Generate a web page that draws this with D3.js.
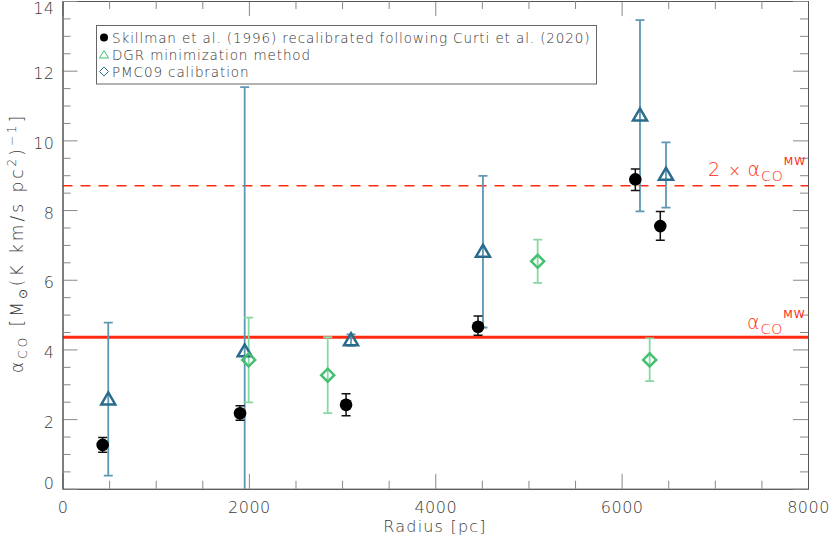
<!DOCTYPE html>
<html>
<head>
<meta charset="utf-8">
<script src="https://cdn.jsdelivr.net/npm/d3@7"></script>
<style>
  body { margin: 0; background: #fff; }
  svg text { font-family: "DejaVu Sans", sans-serif; font-weight: 200; }
</style>
</head>
<body>
<svg id="chart"></svg>
<script>
const width = 830
const height = 543

// Skillman et al. (1996) recalibrated (black circles)
const skR = [431, 1905, 3043, 4459, 6147, 6415]
const skA = [1.26, 2.17, 2.41, 4.65, 8.88, 7.54]
const skLo = [1.05, 1.97, 2.10, 4.41, 8.56, 7.13]
const skHi = [1.47, 2.38, 2.73, 4.96, 9.18, 7.96]

// triangles (blue in plot)
const triR = [491, 1955, 3096, 4512, 6197, 6476]
const triA = [2.55, 3.93, 4.25, 6.79, 10.70, 9.00]
const triLo = [0.38, -1, 4.10, 4.63, 7.96, 8.07]
const triHi = [4.77, 11.53, 4.43, 8.98, 13.45, 9.94]

// diamonds (green in plot)
const diaR = [1998, 2846, 5099, 6301]
const diaA = [3.70, 3.26, 6.53, 3.70]
const diaLo = [2.48, 2.17, 5.91, 3.09]
const diaHi = [4.91, 4.35, 7.15, 4.32]

const alphaMW = 4.35
const xTicks = [0, 2000, 4000, 6000, 8000]
const yTicks = [0, 2, 4, 6, 8, 10, 12, 14]
const legendLabels = [
    "Skillman et al. (1996) recalibrated following Curti et al. (2020)",
    "DGR minimization method",
    "PMC09 calibration"
]

const margin = {top: 1, right: 22, bottom: 54.2, left: 62.5}

const x = d3.scaleLinear().domain([0, 8000]).range([margin.left, width - margin.right])
const y = d3.scaleLinear().domain([0, 14]).range([height - margin.bottom, margin.top])

const red = "#ff2a12"
const blueDark = "#2a6a8c"
const blueLight = "#5e97b4"
const greenDark = "#45bf72"
const greenLight = "#86d9a2"
const axisCol = "#555"
const textCol = "#3a3a3a"

const svg = d3.select("#chart").attr("width", width).attr("height", height)

svg.append("clipPath").attr("id", "clip")
    .append("rect")
    .attr("x", x(0)).attr("y", y(14))
    .attr("width", x(8000) - x(0)).attr("height", y(0) - y(14))

const plot = svg.append("g").attr("clip-path", "url(#clip)")

// reference lines
plot.append("line")
    .attr("x1", x(0)).attr("x2", x(8000))
    .attr("y1", y(alphaMW)).attr("y2", y(alphaMW))
    .attr("stroke", red).attr("stroke-width", 3)

plot.append("line")
    .attr("x1", x(0)).attr("x2", x(8000))
    .attr("y1", y(2 * alphaMW)).attr("y2", y(2 * alphaMW))
    .attr("stroke", red).attr("stroke-width", 1.5)
    .attr("stroke-dasharray", "10,8")

function errorBars(R, lo, hi, colour, cap, sw) {
    const g = plot.append("g")
    R.forEach((r, i) => {
        g.append("line")
            .attr("x1", x(r)).attr("x2", x(r))
            .attr("y1", y(lo[i])).attr("y2", y(hi[i]))
            .attr("stroke", colour).attr("stroke-width", sw)
        ;[lo[i], hi[i]].forEach(v => {
            if (v < 0) return
            g.append("line")
                .attr("x1", x(r) - cap).attr("x2", x(r) + cap)
                .attr("y1", y(v)).attr("y2", y(v))
                .attr("stroke", colour).attr("stroke-width", sw)
        })
    })
}

errorBars(triR, triLo, triHi, blueLight, 4.5, 1.8)
errorBars(diaR, diaLo, diaHi, greenLight, 4.5, 1.8)
errorBars(skR, skLo, skHi, "#111", 4.5, 1.5)

const triPath = "M0,-7.5L7,4.5L-7,4.5Z"
const diaPath = "M0,-6.5L6.5,0L0,6.5L-6.5,0Z"

plot.selectAll(".tri")
    .data(triR)
    .join("path")
    .attr("class", "tri")
    .attr("d", triPath)
    .attr("transform", (d, i) => `translate(${x(d)},${y(triA[i])})`)
    .attr("fill", "none").attr("stroke", blueDark).attr("stroke-width", 2.5)

plot.selectAll(".dia")
    .data(diaR)
    .join("path")
    .attr("class", "dia")
    .attr("d", diaPath)
    .attr("transform", (d, i) => `translate(${x(d)},${y(diaA[i])})`)
    .attr("fill", "none").attr("stroke", greenDark).attr("stroke-width", 2.5)

plot.selectAll(".sk")
    .data(skR)
    .join("circle")
    .attr("class", "sk")
    .attr("cx", d => x(d))
    .attr("cy", (d, i) => y(skA[i]))
    .attr("r", 6.3)
    .attr("fill", "#000")

// axes: major ticks 15px, minor 8px, on all four sides
const minorX = d3.range(0, 8001, 500).filter(v => v % 2000 !== 0)
const minorY = d3.range(0, 14.01, 0.5).filter(v => v % 2 !== 0)

function drawAxis(axis, tr, labels) {
    const g = svg.append("g").attr("transform", tr).call(axis)
    g.select(".domain").attr("stroke", axisCol)
    g.selectAll(".tick line").attr("stroke", "#888")
    if (!labels) g.selectAll(".tick text").remove()
    return g
}

const fmt = d3.format("d")
const bottomAxis = drawAxis(d3.axisBottom(x).tickValues(xTicks).tickFormat(fmt).tickSize(-15).tickSizeOuter(0).tickPadding(13), `translate(0,${y(0)})`, true)
drawAxis(d3.axisBottom(x).tickValues(minorX).tickSize(-8).tickSizeOuter(0), `translate(0,${y(0)})`, false)
drawAxis(d3.axisTop(x).tickValues(xTicks).tickSize(-15).tickSizeOuter(0), `translate(0,${y(14)})`, false)
drawAxis(d3.axisTop(x).tickValues(minorX).tickSize(-8).tickSizeOuter(0), `translate(0,${y(14)})`, false)
const leftAxis = drawAxis(d3.axisLeft(y).tickValues(yTicks).tickFormat(fmt).tickSize(-15).tickSizeOuter(0).tickPadding(8), `translate(${x(0)},0)`, true)
drawAxis(d3.axisLeft(y).tickValues(minorY).tickSize(-8).tickSizeOuter(0), `translate(${x(0)},0)`, false)
drawAxis(d3.axisRight(y).tickValues(yTicks).tickSize(-15).tickSizeOuter(0), `translate(${x(8000)},0)`, false)
drawAxis(d3.axisRight(y).tickValues(minorY).tickSize(-8).tickSizeOuter(0), `translate(${x(8000)},0)`, false)

bottomAxis.selectAll(".tick text")
    .attr("font-size", 16).attr("fill", textCol)
    .style("font-family", "DejaVu Sans").style("font-weight", 200)
    .style("letter-spacing", "0.5px")
leftAxis.selectAll(".tick text")
    .attr("font-size", 16).attr("fill", textCol)
    .style("font-family", "DejaVu Sans").style("font-weight", 200)
    .style("letter-spacing", "0.5px")
    .attr("dy", d => d === 0 ? "-0.05em" : d === 14 ? "0.75em" : "0.5em")

// axis titles
svg.append("text")
    .attr("x", 435).attr("y", 532)
    .attr("text-anchor", "middle")
    .attr("font-size", 16).attr("fill", textCol)
    .style("letter-spacing", "1.2px")
    .text("Radius [pc]")

const yTitle = svg.append("text")
    .attr("transform", `translate(23,${y(7) - 2}) rotate(-90)`)
    .attr("text-anchor", "middle")
    .attr("font-size", 17).attr("fill", textCol)
    .style("letter-spacing", "3px")
yTitle.append("tspan").text("α")
yTitle.append("tspan").attr("font-size", 12).attr("dy", 4).text("CO")
yTitle.append("tspan").attr("dy", -4).text(" [M")
yTitle.append("tspan").attr("font-size", 12).attr("dy", 4).text("⊙")
yTitle.append("tspan").attr("dy", -4).text("(K km/s pc")
yTitle.append("tspan").attr("font-size", 12).attr("dy", -7).text("2")
yTitle.append("tspan").attr("dy", 7).text(")")
yTitle.append("tspan").attr("font-size", 12).attr("dy", -7).text("−1")
yTitle.append("tspan").attr("dy", 7).text("]")

// line labels
function mwLabel(xr, yb, prefix) {
    const t = svg.append("text")
        .attr("x", xr).attr("y", yb)
        .attr("font-size", 19).attr("fill", red)
        .style("letter-spacing", "1px")
    if (prefix) {
        t.append("tspan").text("2 ")
        t.append("tspan").attr("font-size", 15).text(" × ")
    }
    t.append("tspan").text(" α")
    t.append("tspan").attr("font-size", 14).attr("dy", 5).text("CO")
    t.append("tspan").attr("font-size", 11).attr("dy", -16).style("font-weight", 400).text("MW")
}
mwLabel(708, 176, true)
mwLabel(747, 329, false)

// legend
const legend = svg.append("g")
legend.append("rect")
    .attr("x", 96.5).attr("y", 25.5).attr("width", 500).attr("height", 58.5)
    .attr("fill", "#fff").attr("stroke", "#666").attr("stroke-width", 1)

const legendY = [37.5, 54.5, 71.5]
legend.append("circle").attr("cx", 104).attr("cy", legendY[0]).attr("r", 4).attr("fill", "#000")
legend.append("path").attr("d", "M0,-4.5L4.5,3L-4.5,3Z")
    .attr("transform", `translate(104,${legendY[1] + 0.5})`)
    .attr("fill", "none").attr("stroke", greenDark).attr("stroke-width", 1)
legend.append("path").attr("d", "M0,-4.5L4.5,0L0,4.5L-4.5,0Z")
    .attr("transform", `translate(104,${legendY[2]})`)
    .attr("fill", "none").attr("stroke", blueDark).attr("stroke-width", 1)

legend.selectAll(".lab")
    .data(legendLabels)
    .join("text")
    .attr("class", "lab")
    .attr("x", 112)
    .attr("y", (d, i) => legendY[i] + 5)
    .attr("font-size", 13.5).attr("fill", "#333")
    .style("letter-spacing", "0.9px")
    .text(d => d)
</script>
</body>
</html>
